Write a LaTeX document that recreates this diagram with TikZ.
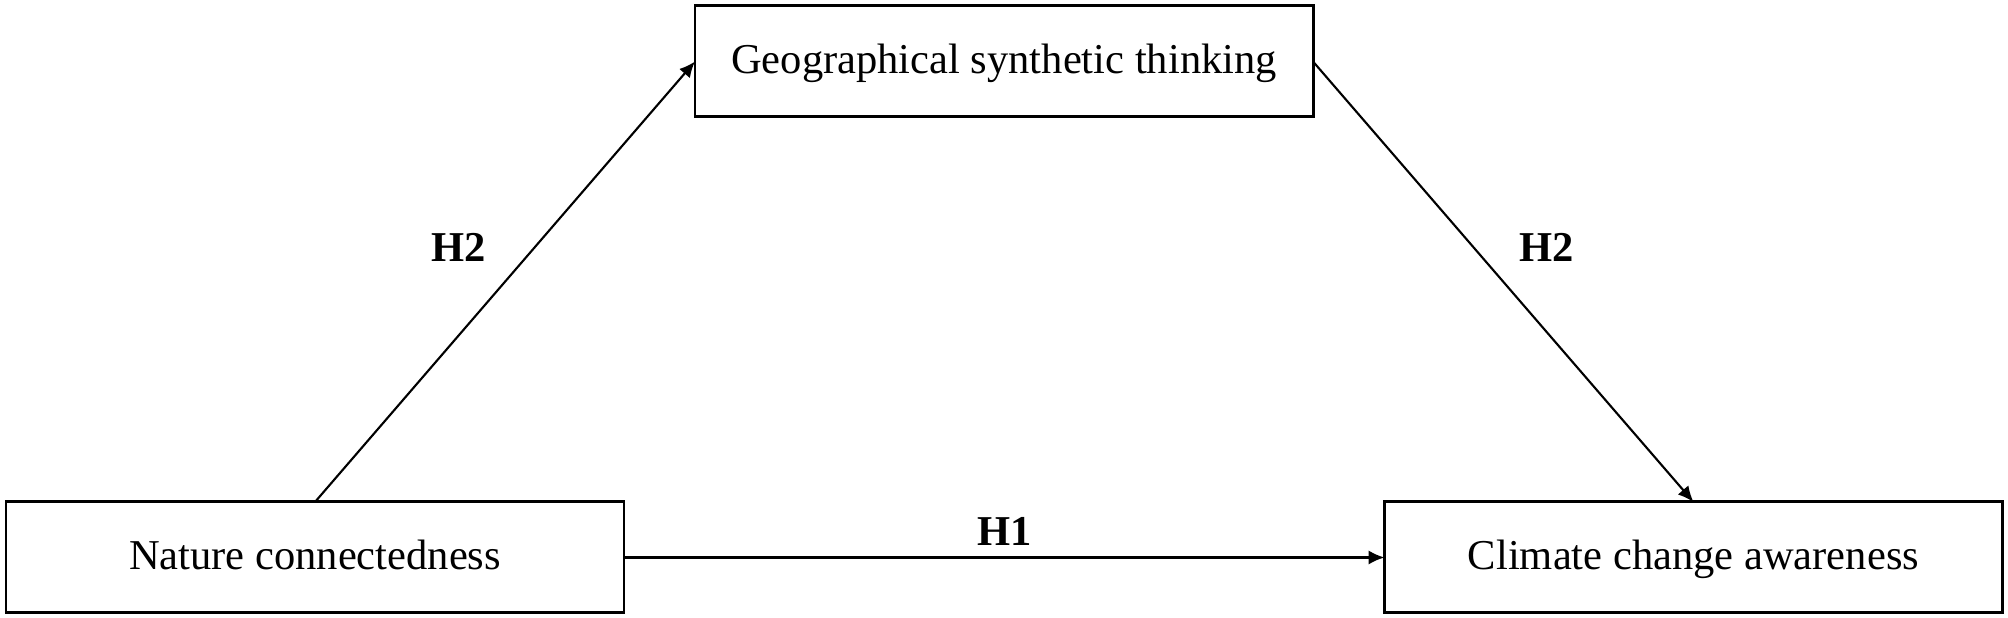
\documentclass[tikz,border=0pt]{standalone}
\usepackage{fontspec}
\setmainfont{Liberation Serif}
\usetikzlibrary{arrows.meta}

\begin{document}
\begin{tikzpicture}
            \tikzstyle{every node} = [font=\fontsize{12.1}{14.5}\selectfont]
            \tikzstyle{varbox} = [draw, line width=0.85pt, minimum width=6.18cm, minimum height=1.11cm, inner sep=0pt, outer sep=0pt, text height=0.9em, text depth=0.238em]
            \tikzstyle{path} = [line width=0.6pt, -{Latex[length=4.5pt, width=4pt]}]
            \tikzstyle{hyp} = [font=\fontsize{12.1}{14.5}\selectfont\bfseries]
            \useasboundingbox (0, 0) rectangle (20.08, 6.18);

            \node[varbox] (nature) at (3.15, 0.605) {Nature connectedness};
            \node[varbox] (geo) at (10.04, 5.565) {Geographical synthetic thinking};
            \node[varbox] (climate) at (16.935, 0.605) {Climate change awareness};

            \draw[path] (nature.north) -- (geo.west)
                node[hyp, pos=0.577, xshift=-0.76cm] (h2left) {H2};
            \draw[path] (geo.east) -- (climate.north)
                node[hyp, pos=0.423, xshift=0.73cm] (h2right) {H2};
            \draw[path] (nature.east) -- (climate.west)
                node[hyp, pos=0.5, yshift=0.265cm] (h1) {H1};
        \end{tikzpicture}
\end{document}
